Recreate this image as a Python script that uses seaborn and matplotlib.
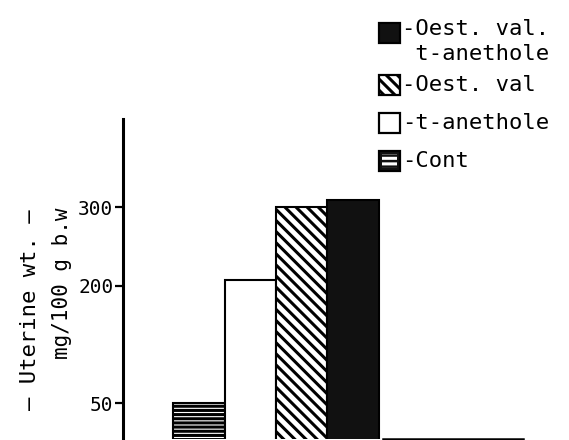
import numpy as np
import pandas as pd
import matplotlib
matplotlib.use("Agg")
import matplotlib.pyplot as plt
from matplotlib.patches import Rectangle
import seaborn as sns

# === Data ===
groups = ["Cont", "t-anethole", "Oest. val", "Oest. val. + t-anethole"]
uterine_wt = [50, 207, 301, 310]
y_ticks = [50, 200, 300]

legend_labels = ["-Oest. val.\n t-anethole", "-Oest. val", "-t-anethole", "-Cont"]

# === Style ===
sns.set_style("white")
plt.rcParams['font.family'] = ['DejaVu Sans Mono', 'DejaVu Sans']
plt.rcParams['hatch.linewidth'] = 2.2
plt.rcParams['text.color'] = 'black'
plt.rcParams['ytick.color'] = 'black'
plt.rcParams['axes.edgecolor'] = 'black'

W, H = 569, 440

def fx(px):
    return px / W

def fy(py):
    return 1 - py / H

fig = plt.figure(figsize=(W / 100, H / 100), dpi=100)
ax = fig.add_axes([fx(123), fy(438.5), 1 - fx(123), fy(119) - fy(438.5)])

df = pd.DataFrame({"group": groups, "wt": uterine_wt})
sns.barplot(data=df, x="group", y="wt", hue="group", palette=["white"] * 4,
            width=1.0, edgecolor="black", linewidth=1.5, legend=False, ax=ax)

# hatches / fills in group order
styles = [("white", "----"), ("white", ""), ("white", "\\\\\\"), ("#111111", "")]
for bar, (fc, hatch) in zip(ax.patches, styles):
    bar.set_facecolor(fc)
    bar.set_hatch(hatch)
    bar.set_edgecolor("black")

ax.set_xlim(-1.48, 7.21)
ax.set_ylim(5, 413)
ax.set_yticks(y_ticks)
ax.set_yticklabels([str(t) for t in y_ticks], fontsize=14)
ax.set_xticks([])
ax.set_xlabel("")
ax.set_ylabel("")
ax.tick_params(axis="y", direction="out", length=6, width=1.6, pad=1, left=True)

for s in ["top", "right"]:
    ax.spines[s].set_visible(False)
ax.spines["left"].set_linewidth(2.2)
ax.spines["bottom"].set_linewidth(1.8)
ax.spines["bottom"].set_bounds(3.59, 6.32)

# y label, two rotated lines
fig.text(fx(30), fy(310), "— Uterine wt. —", rotation=90, ha="center", va="center", fontsize=16)
fig.text(fx(62), fy(283), "mg/100 g b.w", rotation=90, ha="center", va="center", fontsize=15)

# legend keys drawn by hand (square, then label)
key_y = [33, 85, 123, 161]
key_fc = ["#111111", "white", "white", "#111111"]
key_hatch = ["", "\\\\\\", "", ""]
for yc, fc, hatch, lab in zip(key_y, key_fc, key_hatch, legend_labels):
    fig.add_artist(Rectangle((fx(379), fy(yc + 10)), fx(21), fy(yc - 10) - fy(yc + 10),
                             transform=fig.transFigure, facecolor=fc, edgecolor="black",
                             linewidth=1.6, hatch=hatch))
    if "\n" in lab:
        fig.text(fx(402), fy(19), lab, ha="left", va="top", fontsize=16, linespacing=1.3)
    else:
        fig.text(fx(402), fy(yc), lab, ha="left", va="center", fontsize=16)
# white stripes on the control key
fig.add_artist(Rectangle((fx(382), fy(168)), fx(15), fy(154) - fy(168),
                         transform=fig.transFigure, facecolor="none", edgecolor="white",
                         linewidth=0, hatch="---"))

fig.savefig("out.png", dpi=100)
